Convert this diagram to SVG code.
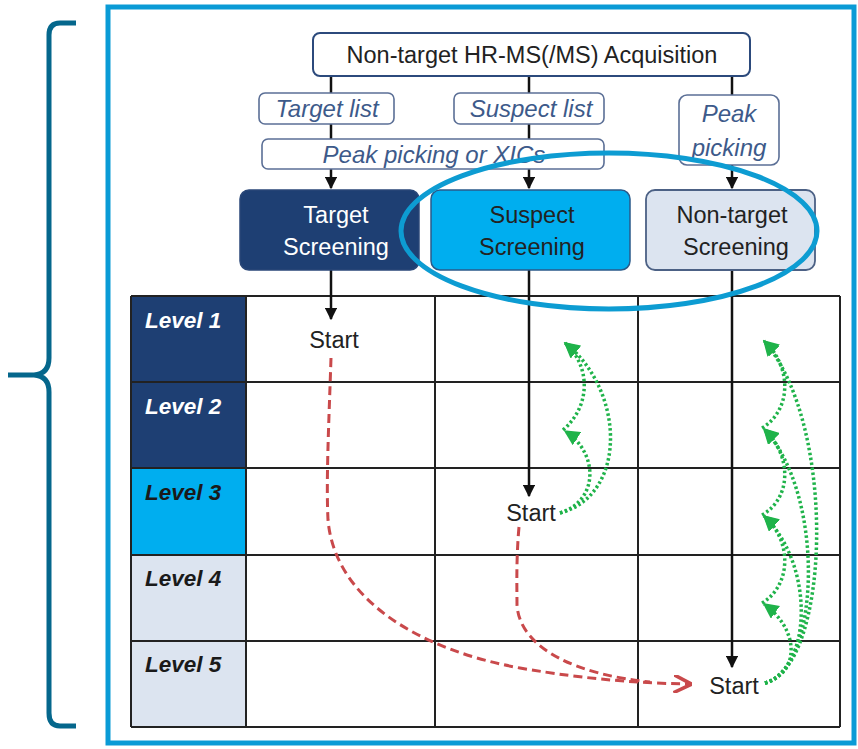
<svg xmlns="http://www.w3.org/2000/svg" width="858" height="749" viewBox="0 0 858 749">
<defs>
<style>
.t{font-family:"Liberation Sans",Arial,sans-serif;font-size:23.5px;fill:#222;text-anchor:middle}
.lbl{font-family:"Liberation Sans",Arial,sans-serif;font-size:24px;font-style:italic;fill:#3d5a8a;text-anchor:middle}
.lv{font-family:"Liberation Sans",Arial,sans-serif;font-size:22.5px;font-style:italic;font-weight:bold}
.lbox{fill:#fff;stroke:#5b6f96;stroke-width:1.6}
.grid{stroke:#222;stroke-width:2;fill:none}
.conn{stroke:#111;stroke-width:2.5;fill:none}
.red{stroke:#c9494b;stroke-width:3;fill:none;stroke-dasharray:9 5}
.grn{stroke:#1fb34a;stroke-width:3.5;fill:none;stroke-dasharray:2.5 2.5}
</style>
<marker id="ab" viewBox="0 0 10 10" refX="9" refY="5" markerWidth="5" markerHeight="5" orient="auto" markerUnits="strokeWidth"><path d="M0,0L10,5L0,10z" fill="#111"/></marker>
<marker id="ar" viewBox="0 0 10 10" refX="8" refY="5" markerWidth="6" markerHeight="6" orient="auto" markerUnits="strokeWidth"><path d="M0,0L10,5L0,10" fill="none" stroke="#c9494b" stroke-width="2"/></marker>
<marker id="ag" viewBox="0 0 10 10" refX="9" refY="5" markerWidth="4.5" markerHeight="4.5" orient="auto" markerUnits="strokeWidth"><path d="M0,0L10,5L0,10z" fill="#1fb34a"/></marker>
</defs>
<rect width="858" height="749" fill="#fff"/>

<g id="level-column">
<rect x="131" y="296" width="115" height="172" fill="#1e3f73"/>
<rect x="131" y="468" width="115" height="87" fill="#00aeef"/>
<rect x="131" y="555" width="115" height="172" fill="#dce4f0"/>
<text class="lv" x="145" y="328" fill="#fff">Level 1</text>
<text class="lv" x="145" y="414" fill="#fff">Level 2</text>
<text class="lv" x="145" y="500" fill="#1a1a1a">Level 3</text>
<text class="lv" x="145" y="586" fill="#1a1a1a">Level 4</text>
<text class="lv" x="145" y="672" fill="#1a1a1a">Level 5</text>
</g>

<g id="grid">
<path class="grid" d="M131,296H840M131,382H840M131,468H840M131,555H840M131,641H840M131,727H840M131,296V727M246,296V727M435,296V727M638,296V727M840,296V727"/>
</g>

<g id="connectors">
<path class="conn" d="M331,76V188" marker-end="url(#ab)"/>
<path class="conn" d="M529,76V188" marker-end="url(#ab)"/>
<path class="conn" d="M732,76V188" marker-end="url(#ab)"/>
<path class="conn" d="M331,270V319" marker-end="url(#ab)"/>
<path class="conn" d="M529,270V496" marker-end="url(#ab)"/>
<path class="conn" d="M732,270V667" marker-end="url(#ab)"/>
<path class="red" d="M331,358C329,420 326,480 328,520C335,600 420,650 520,668C590,680 640,683 688,684" marker-end="url(#ar)"/>
<path class="red" d="M519,527C516,560 517,590 517,605C520,650 580,675 650,682" />
<path class="grn" d="M560,513C600,500 598,452 565,431" marker-end="url(#ag)"/>
<path class="grn" d="M563,430C592,405 590,365 565,343" marker-end="url(#ag)"/>
<path class="grn" d="M560,513C628,495 625,390 565,343" marker-end="url(#ag)"/>
<path class="grn" d="M765,683C800,673 800,630 764,604" marker-end="url(#ag)"/>
<path class="grn" d="M762,603C792,585 792,540 764,516" marker-end="url(#ag)"/>
<path class="grn" d="M762,515C792,498 792,455 764,429" marker-end="url(#ag)"/>
<path class="grn" d="M762,428C792,410 792,366 764,341" marker-end="url(#ag)"/>
<path class="grn" d="M765,683C812,668 815,565 764,516" marker-end="url(#ag)"/>
<path class="grn" d="M765,683C820,668 826,495 764,429" marker-end="url(#ag)"/>
<path class="grn" d="M765,683C830,668 838,425 764,341" marker-end="url(#ag)"/>
</g>

<g id="acquisition">
<rect x="313" y="33" width="437" height="43" rx="7" fill="#fff" stroke="#2c4a7c" stroke-width="2"/>
<text class="t" x="532" y="63">Non-target HR-MS(/MS) Acquisition</text>
</g>
<g id="target-list">
<rect class="lbox" x="259" y="93" width="135" height="31" rx="6"/>
<text class="lbl" x="327" y="117">Target list</text>
</g>
<g id="suspect-list">
<rect class="lbox" x="454" y="93" width="150" height="31" rx="6"/>
<text class="lbl" x="531" y="117">Suspect list</text>
</g>
<g id="peak-picking-or-xics">
<rect class="lbox" x="262" y="139" width="342" height="30" rx="6"/>
<text class="lbl" x="434" y="163">Peak picking or XICs</text>
</g>
<g id="peak-picking">
<rect class="lbox" x="679" y="95" width="100" height="70" rx="8"/>
<text class="lbl" x="729" y="122">Peak</text>
<text class="lbl" x="729" y="156">picking</text>
</g>
<g id="target-screening">
<rect x="240" y="190" width="179" height="80" rx="9" fill="#1e3f73" stroke="#2a4778" stroke-width="1.5"/>
<text class="t" x="336" y="223" style="fill:#fff">Target</text>
<text class="t" x="336" y="255" style="fill:#fff">Screening</text>
</g>
<g id="suspect-screening">
<rect x="431" y="190" width="199" height="80" rx="9" fill="#00aeef" stroke="#2a5a8a" stroke-width="1.5"/>
<text class="t" x="532" y="223">Suspect</text>
<text class="t" x="532" y="255">Screening</text>
</g>
<g id="nontarget-screening">
<rect x="646" y="190" width="169" height="80" rx="9" fill="#dce4f0" stroke="#4c6185" stroke-width="1.8"/>
<text class="t" x="732" y="223">Non-target</text>
<text class="t" x="736" y="255">Screening</text>
</g>

<g id="starts">
<text class="t" x="334" y="348">Start</text>
<text class="t" x="531" y="521">Start</text>
<text class="t" x="734" y="694">Start</text>
</g>

<ellipse id="highlight" cx="609" cy="231" rx="208" ry="78" fill="none" stroke="#0d9cd2" stroke-width="5"/>
<rect id="frame" x="108" y="7" width="746" height="736" fill="none" stroke="#0a9bd6" stroke-width="5"/>
<path id="brace" d="M76,23H60Q49,23 49,35V358Q49,374 34,375H8M34,375H34Q49,376 49,392V713Q49,726 60,726H76" fill="none" stroke="#05678c" stroke-width="5"/>
</svg>
